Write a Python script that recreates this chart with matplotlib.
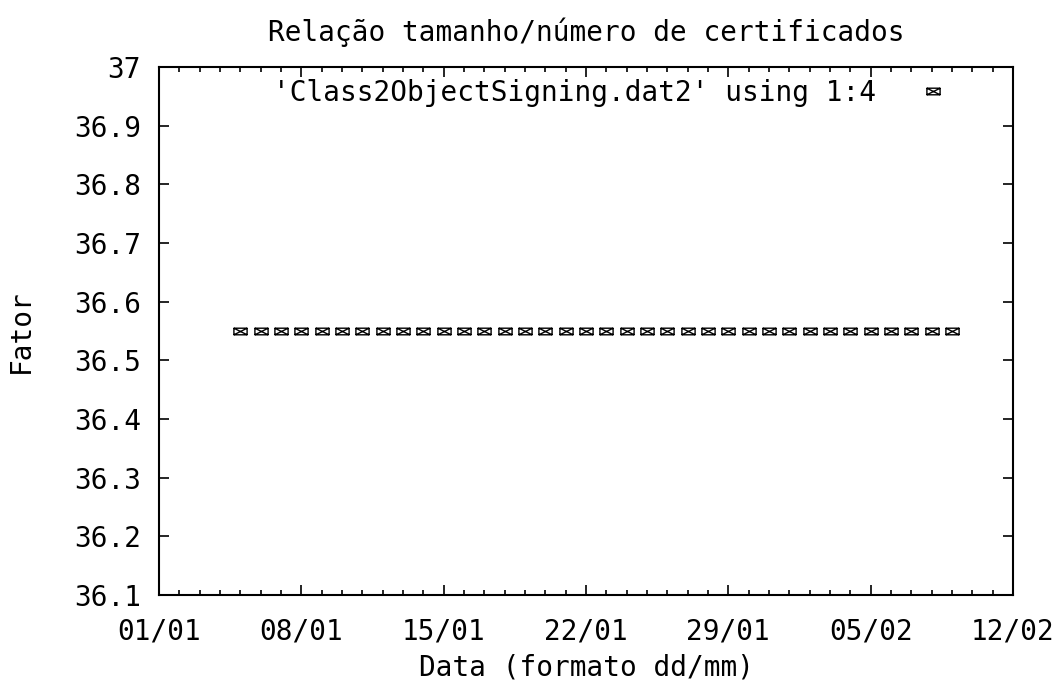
# coding: utf-8
import matplotlib
matplotlib.use("Agg")
import matplotlib.pyplot as plt
import matplotlib.dates as mdates
from matplotlib.path import Path
import pandas as pd

# ================= 数据 =================
datas = [
    "2004-01-05", "2004-01-06", "2004-01-07", "2004-01-08", "2004-01-09",
    "2004-01-10", "2004-01-11", "2004-01-12", "2004-01-13", "2004-01-14",
    "2004-01-15", "2004-01-16", "2004-01-17", "2004-01-18", "2004-01-19",
    "2004-01-20", "2004-01-21", "2004-01-22", "2004-01-23", "2004-01-24",
    "2004-01-25", "2004-01-26", "2004-01-27", "2004-01-28", "2004-01-29",
    "2004-01-30", "2004-01-31", "2004-02-01", "2004-02-02", "2004-02-03",
    "2004-02-04", "2004-02-05", "2004-02-06", "2004-02-07", "2004-02-08",
    "2004-02-09",
]
fator = [
    36.55, 36.55, 36.55, 36.55, 36.55, 36.55, 36.55, 36.55, 36.55, 36.55,
    36.55, 36.55, 36.55, 36.55, 36.55, 36.55, 36.55, 36.55, 36.55, 36.55,
    36.55, 36.55, 36.55, 36.55, 36.55, 36.55, 36.55, 36.55, 36.55, 36.55,
    36.55, 36.55, 36.55, 36.55, 36.55, 36.55,
]
x_ticks = ["2004-01-01", "2004-01-08", "2004-01-15", "2004-01-22",
           "2004-01-29", "2004-02-05", "2004-02-12"]
y_ticks = [36.1, 36.2, 36.3, 36.4, 36.5, 36.6, 36.7, 36.8, 36.9, 37]
y_labels = ["36.1", "36.2", "36.3", "36.4", "36.5", "36.6", "36.7", "36.8", "36.9", "37"]

titulo = "Relação tamanho/número de certificados"
legenda = "'Class2ObjectSigning.dat2' using 1:4"

# ================= 配置 =================
FS = 20
plt.rcParams['font.family'] = ['DejaVu Sans Mono', 'DejaVu Sans']
plt.rcParams['font.size'] = FS

# marcador estilo gnuplot: caixa com X, mais larga que alta
marker_path = Path(
    [(-1, -0.5), (1, -0.5), (1, 0.5), (-1, 0.5), (-1, -0.5),
     (-1, -0.5), (1, 0.5), (-1, 0.5), (1, -0.5)],
    [Path.MOVETO, Path.LINETO, Path.LINETO, Path.LINETO, Path.CLOSEPOLY,
     Path.MOVETO, Path.LINETO, Path.MOVETO, Path.LINETO],
)

x = pd.to_datetime(datas)

fig = plt.figure(figsize=(10.57, 6.88), dpi=100)
ax = fig.add_axes([0.1504, 0.1352, 0.808, 0.7674])

ax.plot(x, fator, linestyle='none', marker=marker_path, markersize=9.5,
        markerfacecolor='none', markeredgecolor='black', markeredgewidth=1.0,
        label=legenda)

ax.set_xlim(pd.Timestamp(x_ticks[0]), pd.Timestamp(x_ticks[-1]))
ax.set_ylim(36.1, 37)
ax.set_xticks(pd.to_datetime(x_ticks))
ax.xaxis.set_major_formatter(mdates.DateFormatter('%d/%m'))
ax.xaxis.set_minor_locator(mdates.DayLocator())
ax.set_yticks(y_ticks)
ax.set_yticklabels(y_labels)

for s in ax.spines.values():
    s.set_linewidth(1.5)

ax.tick_params(axis='both', which='major', direction='in', length=7, width=1.2,
               top=True, right=True, labelsize=FS)
ax.tick_params(axis='x', which='major', pad=16)
ax.tick_params(axis='y', which='major', pad=13)
ax.tick_params(axis='x', which='minor', direction='in', length=3.5, width=1.2,
               top=True, bottom=True)

ax.set_title(titulo, fontsize=FS, pad=19)
ax.set_xlabel("Data (formato dd/mm)", fontsize=FS, labelpad=6)
ax.set_ylabel("Fator", fontsize=FS, labelpad=28)

ax.legend(loc='upper right', bbox_to_anchor=(0.971, 0.978), markerfirst=False,
          frameon=False, borderaxespad=0, borderpad=0, handlelength=4,
          handletextpad=0.05, fontsize=FS)

fig.savefig("out.png", dpi=100)
plt.close(fig)
